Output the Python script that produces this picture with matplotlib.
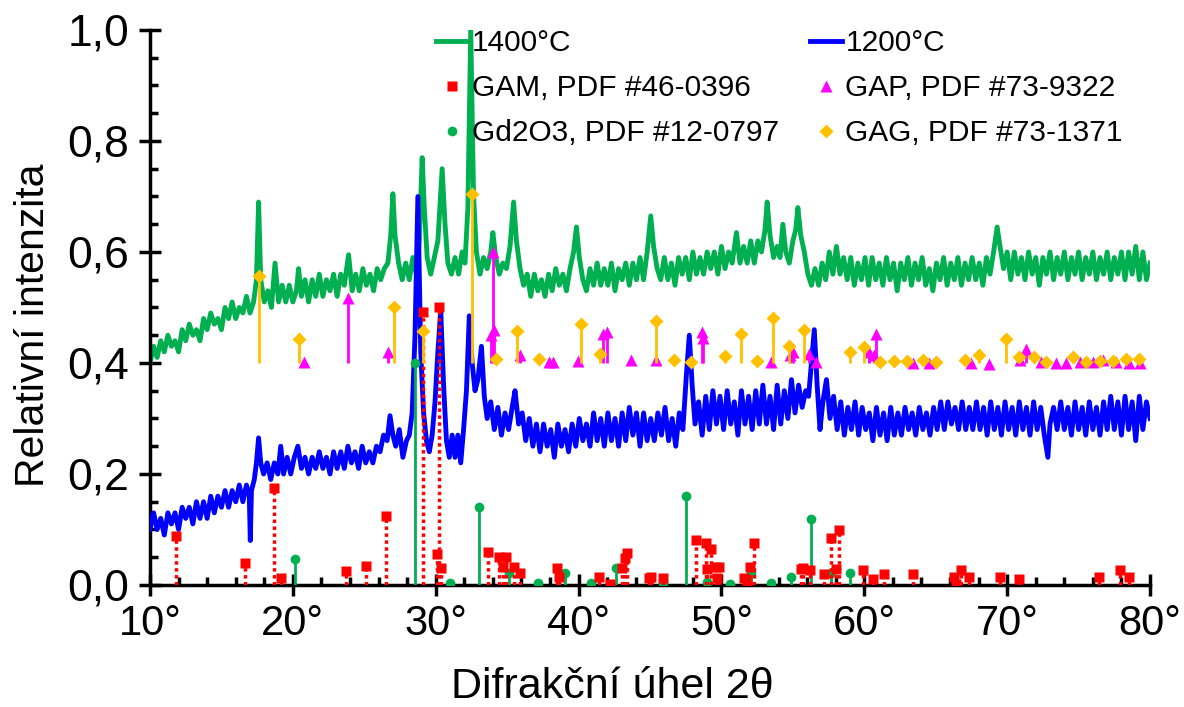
import numpy as np
import matplotlib
matplotlib.use('Agg')
import matplotlib.pyplot as plt
from matplotlib.ticker import MultipleLocator, FuncFormatter

plt.rcParams['font.family'] = ['Liberation Sans', 'DejaVu Sans']

# difraktogram 1400 °C: (2theta, intenzita)
g_pts = [
    (10.0, .40), (10.25, .43), (10.5, .41), (10.75, .44), (11.0, .42), (11.25, .45), (11.5, .43), (11.75, .44),
    (12.0, .42), (12.25, .46), (12.5, .44), (12.75, .47), (13.0, .45), (13.25, .46), (13.5, .44), (13.75, .48),
    (14.0, .46), (14.25, .49), (14.5, .47), (14.75, .48), (15.0, .46), (15.25, .50), (15.5, .48), (15.75, .51),
    (16.0, .48), (16.25, .50), (16.5, .49), (16.75, .52), (17.0, .49), (17.25, .51), (17.45, .55), (17.6, .69),
    (17.75, .55), (18.0, .51), (18.25, .53), (18.5, .50), (18.75, .58), (19.0, .51), (19.25, .54), (19.5, .51),
    (19.75, .54), (20.0, .51), (20.25, .53), (20.4, .57), (20.6, .52), (20.85, .55), (21.1, .51), (21.35, .55),
    (21.6, .52), (21.85, .56), (22.1, .52), (22.35, .55), (22.6, .53), (22.85, .56), (23.1, .52), (23.35, .56),
    (23.6, .54), (23.9, .595), (24.15, .53), (24.4, .56), (24.65, .53), (24.9, .57), (25.15, .54), (25.4, .56),
    (25.65, .53), (25.9, .57), (26.15, .55), (26.4, .57), (26.65, .58), (26.85, .63), (27.0, .705), (27.15, .63),
    (27.4, .58), (27.65, .55), (27.9, .58), (28.15, .55), (28.4, .59), (28.65, .56), (28.85, .62), (29.05, .77),
    (29.2, .68), (29.4, .59), (29.65, .56), (29.9, .59), (30.15, .62), (30.45, .75), (30.65, .65), (30.85, .58),
    (31.1, .56), (31.35, .59), (31.6, .56), (31.85, .60), (32.05, .58), (32.25, .68), (32.45, 1.0), (32.65, .70),
    (32.85, .60), (33.1, .56), (33.35, .59), (33.6, .57), (33.85, .60), (34.0, .635), (34.2, .59), (34.45, .56),
    (34.7, .58), (34.95, .57), (35.2, .61), (35.45, .69), (35.65, .62), (35.9, .57), (36.15, .54), (36.4, .56),
    (36.65, .52), (36.9, .56), (37.15, .53), (37.4, .55), (37.65, .52), (37.9, .56), (38.15, .53), (38.4, .57),
    (38.65, .54), (38.9, .56), (39.15, .53), (39.4, .57), (39.65, .60), (39.85, .645), (40.05, .59), (40.3, .55),
    (40.55, .53), (40.8, .57), (41.05, .54), (41.3, .58), (41.55, .54), (41.8, .57), (42.05, .54), (42.3, .58),
    (42.55, .53), (42.8, .57), (43.05, .55), (43.3, .58), (43.55, .54), (43.8, .58), (44.05, .55), (44.3, .59),
    (44.55, .55), (44.8, .60), (45.05, .665), (45.25, .61), (45.5, .57), (45.75, .55), (46.0, .59), (46.25, .55),
    (46.5, .58), (46.75, .54), (47.0, .59), (47.25, .56), (47.5, .59), (47.75, .55), (48.0, .60), (48.25, .56),
    (48.5, .59), (48.75, .56), (49.0, .60), (49.25, .57), (49.5, .60), (49.75, .56), (50.0, .61), (50.25, .57),
    (50.5, .60), (50.75, .58), (51.05, .635), (51.3, .58), (51.55, .61), (51.8, .58), (52.05, .62), (52.3, .58),
    (52.55, .62), (52.8, .60), (53.05, .64), (53.2, .69), (53.4, .63), (53.65, .59), (53.9, .61), (54.1, .59),
    (54.3, .65), (54.5, .60), (54.75, .58), (55.0, .62), (55.2, .64), (55.35, .68), (55.55, .63), (55.8, .60),
    (56.05, .56), (56.3, .54), (56.55, .57), (56.8, .54), (57.05, .58), (57.3, .55), (57.55, .60), (57.8, .56),
    (58.05, .61), (58.3, .56), (58.55, .59), (58.8, .55), (59.05, .59), (59.3, .54), (59.55, .58), (59.8, .55),
    (60.05, .59), (60.3, .54), (60.55, .59), (60.8, .55), (61.05, .58), (61.3, .54), (61.55, .59), (61.8, .55),
    (62.05, .58), (62.3, .53), (62.55, .58), (62.8, .55), (63.05, .59), (63.3, .54), (63.55, .58), (63.8, .55),
    (64.05, .59), (64.3, .54), (64.55, .57), (64.8, .53), (65.05, .58), (65.3, .55), (65.55, .59), (65.8, .54),
    (66.05, .58), (66.3, .55), (66.55, .59), (66.8, .54), (67.05, .58), (67.3, .55), (67.55, .59), (67.8, .55),
    (68.05, .58), (68.3, .54), (68.55, .59), (68.8, .56), (69.05, .60), (69.3, .645), (69.5, .61), (69.75, .57),
    (70.0, .60), (70.25, .55), (70.5, .60), (70.75, .56), (71.0, .59), (71.25, .55), (71.5, .60), (71.75, .56),
    (72.0, .59), (72.25, .54), (72.5, .59), (72.75, .56), (73.0, .60), (73.25, .55), (73.5, .59), (73.75, .56),
    (74.0, .60), (74.25, .55), (74.5, .59), (74.75, .56), (75.0, .60), (75.25, .55), (75.5, .59), (75.75, .56),
    (76.0, .60), (76.25, .55), (76.5, .59), (76.75, .56), (77.0, .60), (77.25, .55), (77.5, .59), (77.75, .56),
    (78.0, .60), (78.25, .55), (78.5, .60), (78.75, .56), (79.0, .61), (79.25, .55), (79.5, .60), (79.75, .55),
    (80.0, .58),
]

# difraktogram 1200 °C
b_pts = [
    (10.0, .10), (10.25, .13), (10.5, .10), (10.75, .12), (11.0, .09), (11.25, .13), (11.5, .11), (11.75, .13),
    (12.0, .10), (12.25, .14), (12.5, .12), (12.75, .14), (13.0, .11), (13.25, .15), (13.5, .12), (13.75, .15),
    (14.0, .12), (14.25, .16), (14.5, .13), (14.75, .16), (15.0, .14), (15.25, .17), (15.5, .14), (15.75, .17),
    (16.0, .15), (16.25, .18), (16.5, .15), (16.75, .18), (16.95, .16), (17.02, .08), (17.1, .17), (17.3, .19),
    (17.45, .22), (17.6, .265), (17.75, .22), (17.95, .20), (18.2, .22), (18.45, .19), (18.7, .22), (18.95, .20),
    (19.15, .25), (19.35, .20), (19.6, .23), (19.85, .20), (20.1, .23), (20.35, .25), (20.6, .21), (20.85, .23),
    (21.1, .20), (21.35, .23), (21.6, .21), (21.85, .24), (22.1, .21), (22.35, .23), (22.6, .20), (22.85, .24),
    (23.1, .21), (23.35, .24), (23.6, .21), (23.85, .25), (24.1, .22), (24.35, .24), (24.6, .21), (24.85, .25),
    (25.1, .22), (25.35, .24), (25.6, .22), (25.85, .25), (26.1, .24), (26.35, .27), (26.6, .26), (26.8, .305),
    (27.0, .27), (27.2, .25), (27.45, .28), (27.7, .23), (27.95, .26), (28.15, .27), (28.35, .31), (28.55, .45),
    (28.75, .70), (28.95, .42), (29.15, .31), (29.35, .26), (29.55, .24), (29.75, .27), (29.95, .33), (30.15, .42),
    (30.35, .495), (30.55, .36), (30.75, .26), (30.95, .23), (31.15, .27), (31.35, .23), (31.55, .27), (31.75, .22),
    (31.95, .28), (32.15, .35), (32.35, .485), (32.55, .40), (32.75, .35), (32.95, .37), (33.2, .43), (33.4, .34),
    (33.6, .30), (33.85, .33), (34.1, .28), (34.35, .32), (34.6, .27), (34.85, .31), (35.1, .28), (35.35, .32),
    (35.55, .35), (35.8, .29), (36.05, .31), (36.3, .26), (36.55, .30), (36.8, .25), (37.05, .29), (37.3, .24),
    (37.55, .29), (37.8, .25), (38.05, .28), (38.3, .23), (38.55, .29), (38.8, .25), (39.05, .28), (39.3, .24),
    (39.55, .29), (39.8, .25), (40.05, .30), (40.3, .26), (40.55, .29), (40.8, .25), (41.05, .31), (41.3, .26),
    (41.55, .30), (41.8, .25), (42.05, .31), (42.3, .26), (42.55, .30), (42.8, .25), (43.05, .31), (43.3, .26),
    (43.55, .32), (43.8, .27), (44.05, .31), (44.3, .25), (44.55, .31), (44.8, .26), (45.05, .30), (45.3, .26),
    (45.55, .31), (45.8, .27), (46.05, .32), (46.3, .26), (46.55, .30), (46.8, .25), (47.05, .31), (47.3, .28),
    (47.55, .38), (47.75, .45), (47.95, .36), (48.15, .29), (48.4, .33), (48.65, .27), (48.9, .34), (49.15, .28),
    (49.4, .35), (49.65, .29), (49.9, .34), (50.15, .28), (50.4, .35), (50.65, .29), (50.9, .33), (51.15, .27),
    (51.4, .35), (51.65, .29), (51.9, .34), (52.15, .28), (52.4, .35), (52.65, .29), (52.9, .36), (53.15, .29),
    (53.4, .34), (53.65, .28), (53.9, .36), (54.15, .29), (54.4, .35), (54.65, .30), (54.9, .37), (55.15, .31),
    (55.4, .36), (55.65, .32), (55.9, .35), (56.1, .34), (56.3, .40), (56.5, .46), (56.7, .36), (56.9, .28),
    (57.1, .33), (57.35, .37), (57.6, .30), (57.85, .34), (58.1, .28), (58.35, .33), (58.6, .27), (58.85, .32),
    (59.1, .28), (59.35, .33), (59.6, .27), (59.85, .32), (60.1, .28), (60.35, .31), (60.6, .26), (60.85, .32),
    (61.1, .27), (61.35, .31), (61.6, .26), (61.85, .32), (62.1, .27), (62.35, .31), (62.6, .27), (62.85, .32),
    (63.1, .28), (63.35, .31), (63.6, .27), (63.85, .32), (64.1, .28), (64.35, .31), (64.6, .27), (64.85, .32),
    (65.1, .28), (65.35, .33), (65.6, .28), (65.85, .33), (66.1, .29), (66.35, .32), (66.6, .28), (66.85, .33),
    (67.1, .28), (67.35, .32), (67.6, .28), (67.85, .33), (68.1, .28), (68.35, .32), (68.6, .27), (68.85, .33),
    (69.1, .28), (69.35, .32), (69.6, .27), (69.85, .33), (70.1, .28), (70.35, .32), (70.6, .27), (70.85, .33),
    (71.1, .28), (71.35, .32), (71.6, .27), (71.85, .33), (72.1, .28), (72.35, .32), (72.6, .27), (72.85, .23),
    (73.0, .29), (73.25, .32), (73.5, .28), (73.75, .33), (74.0, .28), (74.25, .32), (74.5, .27), (74.75, .33),
    (75.0, .28), (75.25, .32), (75.5, .27), (75.75, .33), (76.0, .28), (76.25, .32), (76.5, .27), (76.75, .33),
    (77.0, .28), (77.25, .34), (77.5, .28), (77.75, .33), (78.0, .27), (78.25, .34), (78.5, .28), (78.75, .33),
    (79.0, .26), (79.25, .34), (79.5, .28), (79.75, .33), (80.0, .30),
]

# GAM, PDF #46-0396 (od nuly)
gam_x = [11.8, 16.67, 18.7, 19.2, 23.7, 25.1, 26.5, 29.08, 30.06, 30.25, 30.4, 33.68, 34.45, 34.7, 34.9, 35.5, 35.9,
         38.5, 38.6, 41.45, 42.2, 43.07, 43.25, 43.4, 44.9, 45.1, 45.9, 48.2, 48.95, 49.0, 49.3, 49.65, 49.7, 49.8,
         51.6, 51.8, 52.0, 52.27, 55.6, 55.7, 56.2, 57.2, 57.65, 58.0, 58.24, 59.9, 60.6, 61.4, 63.4, 66.3, 66.45,
         66.75, 67.3, 69.5, 70.8, 76.4, 77.9, 78.5]
gam_y = [0.089, 0.040, 0.174, 0.013, 0.026, 0.034, 0.124, 0.492, 0.055, 0.501, 0.030, 0.060, 0.050, 0.032, 0.050,
         0.033, 0.021, 0.031, 0.015, 0.014, 0.002, 0.030, 0.048, 0.057, 0.012, 0.014, 0.013, 0.081, 0.075, 0.028,
         0.064, 0.033, 0.012, 0.033, 0.012, 0.001, 0.033, 0.075, 0.028, 0.030, 0.027, 0.020, 0.084, 0.028, 0.099,
         0.027, 0.011, 0.020, 0.020, 0.014, 0.001, 0.027, 0.014, 0.014, 0.011, 0.014, 0.027, 0.014]

# Gd2O3, PDF #12-0797 (od nuly)
gdo_x = [20.15, 28.57, 30.99, 33.05, 35.15, 37.17, 39.05, 40.85, 42.6, 45.9, 47.5, 49.0, 50.6, 52.07, 53.5, 54.9,
         56.25, 57.65, 59.03]
gdo_y = [0.047, 0.400, 0.004, 0.140, 0.022, 0.004, 0.022, 0.004, 0.030, 0.004, 0.160, 0.005, 0.001, 0.022, 0.004,
         0.015, 0.118, 0.022, 0.022]

# GAP, PDF #73-9322 (od 0,4)
gap_x = [20.78, 23.88, 26.68, 33.85, 33.98, 34.1, 35.9, 37.9, 38.2, 39.97, 41.7, 41.98, 43.7, 45.4, 48.65, 48.7,
         53.45, 54.8, 55.0, 56.1, 56.65, 60.35, 60.7, 60.85, 63.4, 64.5, 67.5, 68.7, 70.9, 71.35, 72.4, 73.45, 74.1,
         75.1, 76.0, 76.7, 77.6, 78.5, 79.3]
gap_y = [0.402, 0.517, 0.420, 0.450, 0.600, 0.460, 0.414, 0.402, 0.402, 0.404, 0.453, 0.455, 0.405, 0.405, 0.456,
         0.445, 0.402, 0.414, 0.420, 0.417, 0.402, 0.420, 0.414, 0.453, 0.400, 0.400, 0.400, 0.398, 0.405, 0.426,
         0.402, 0.400, 0.400, 0.402, 0.402, 0.405, 0.402, 0.400, 0.400]

# GAG, PDF #73-1371 (od 0,4)
gag_x = [17.65, 20.43, 27.1, 29.08, 32.56, 34.19, 35.7, 37.25, 40.14, 41.5, 45.4, 46.65, 47.86, 50.25, 51.35, 52.5,
         53.6, 54.74, 55.8, 59.0, 60.0, 61.1, 62.1, 63.0, 64.1, 65.05, 67.05, 68.0, 69.9, 70.85, 71.9, 72.75, 74.6,
         75.55, 76.5, 77.4, 78.3, 79.2]
gag_y = [0.557, 0.444, 0.501, 0.458, 0.704, 0.407, 0.458, 0.407, 0.471, 0.417, 0.476, 0.405, 0.402, 0.413, 0.452,
         0.404, 0.481, 0.431, 0.459, 0.419, 0.428, 0.401, 0.404, 0.404, 0.405, 0.402, 0.405, 0.414, 0.443, 0.411,
         0.411, 0.402, 0.411, 0.402, 0.404, 0.404, 0.407, 0.408]

green = '#00B050'
blue = '#0000FF'
red = '#FF0000'
magenta = '#FF00FF'
orange = '#FFC000'

g_x, g_y = zip(*g_pts)
b_x, b_y = zip(*b_pts)

fig = plt.figure(figsize=(11.84, 7.07), dpi=100)
ax = fig.add_axes([0.1267, 0.1726, 0.8446, 0.785])

ax.plot(g_x, g_y, color=green, lw=3.5, label='1400°C', zorder=2)
ax.plot(b_x, b_y, color=blue, lw=3.5, label='1200°C', zorder=3)

# čárové difraktogramy
ax.vlines(gdo_x, 0, gdo_y, color=green, lw=2, zorder=4)
ax.plot(gdo_x, gdo_y, 'o', color=green, ms=7, mec='none', label='Gd2O3, PDF #12-0797', zorder=4)
ax.vlines(gam_x, 0, gam_y, color=red, lw=2.5, linestyles=(0, (1, 1)), zorder=5)
ax.plot(gam_x, gam_y, 's', color=red, ms=7, mec='none', label='GAM, PDF #46-0396', zorder=5)
ax.vlines(gap_x, 0.4, gap_y, color=magenta, lw=2, zorder=5)
ax.plot(gap_x, gap_y, '^', color=magenta, ms=8, mec='none', label='GAP, PDF #73-9322', zorder=5)
ax.vlines(gag_x, 0.4, gag_y, color=orange, lw=2, zorder=6)
ax.plot(gag_x, gag_y, 'D', color=orange, ms=7, mec='none', label='GAG, PDF #73-1371', zorder=6)

ax.set_xlim(10, 80)
ax.set_ylim(0, 1.0)
ax.spines['top'].set_visible(False)
ax.spines['right'].set_visible(False)
ax.spines['left'].set_linewidth(2.5)
ax.spines['bottom'].set_linewidth(2.5)

ax.xaxis.set_major_locator(MultipleLocator(10))
ax.xaxis.set_minor_locator(MultipleLocator(2))
ax.yaxis.set_major_locator(MultipleLocator(0.2))
ax.yaxis.set_minor_locator(MultipleLocator(0.05))
ax.xaxis.set_major_formatter(FuncFormatter(lambda v, p: f'{v:.0f}°'))
ax.yaxis.set_major_formatter(FuncFormatter(lambda v, p: f'{v:.1f}'.replace('.', ',')))
ax.tick_params(which='major', direction='inout', length=16, width=2.5)
ax.tick_params(which='minor', direction='in', length=6, width=2.5)
ax.tick_params(axis='x', which='major', labelsize=30, pad=6)
ax.tick_params(axis='y', which='major', labelsize=32, pad=7)

ax.set_xlabel('Difrakční úhel 2θ', fontsize=31)
ax.xaxis.set_label_coords(0.462, -0.148)
ax.set_ylabel('Relativní intenzita', fontsize=29.5)
ax.yaxis.set_label_coords(-0.098, 0.468)

h, l = ax.get_legend_handles_labels()
order = [0, 3, 2, 1, 4, 5]
ax.legend([h[i] for i in order], [l[i] for i in order], ncol=2, frameon=False, fontsize=21.5,
          loc='upper left', bbox_to_anchor=(0.259, 1.05), handlelength=1.1, handletextpad=0.1,
          columnspacing=1.03, labelspacing=0.57, markerscale=1.0)

fig.savefig('out.png', dpi=100)
